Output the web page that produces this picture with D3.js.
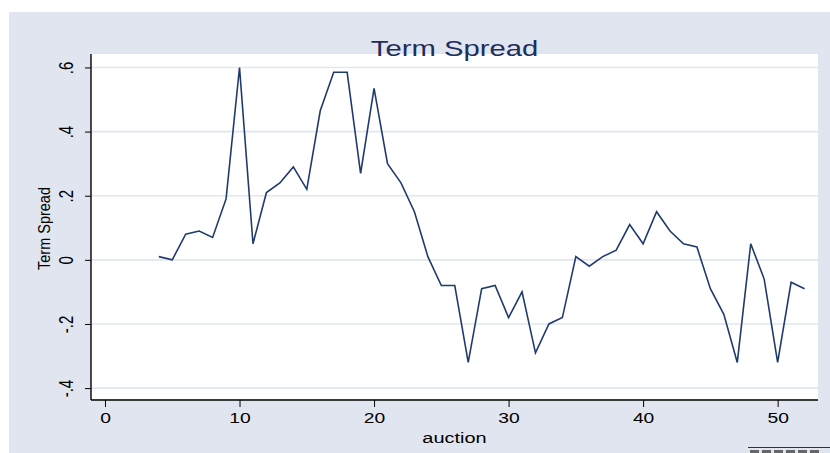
<!DOCTYPE html>
<html>
<head>
<meta charset="utf-8">
<script src="https://cdn.jsdelivr.net/npm/d3@7"></script>
<style>
  html, body { margin: 0; padding: 0; background: #ffffff; overflow: hidden; }
  svg { display: block; }
  text { font-family: "Liberation Sans", Arial, sans-serif; }
</style>
</head>
<body>
<svg id="chart" width="830" height="453"></svg>
<script>
// ---- data ----
const auction = [4, 5, 6, 7, 8, 9, 10, 11, 12, 13, 14, 15, 16, 17, 18, 19, 20, 21, 22, 23, 24, 25, 26, 27, 28,
                 29, 30, 31, 32, 33, 34, 35, 36, 37, 38, 39, 40, 41, 42, 43, 44, 45, 46, 47, 48, 49, 50, 51, 52];
const termSpread = [0.01, 0.00, 0.08, 0.09, 0.07, 0.19, 0.60, 0.05, 0.21, 0.24, 0.29, 0.22, 0.465, 0.585, 0.585,
                    0.27, 0.535, 0.30, 0.24, 0.15, 0.01, -0.08, -0.08, -0.32, -0.09, -0.08, -0.18, -0.10, -0.29,
                    -0.20, -0.18, 0.01, -0.02, 0.01, 0.03, 0.11, 0.05, 0.15, 0.09, 0.05, 0.04, -0.09, -0.17,
                    -0.32, 0.05, -0.06, -0.32, -0.07, -0.09];
const xTicks = [0, 10, 20, 30, 40, 50];
const yTicks = [0.6, 0.4, 0.2, 0, -0.2, -0.4];
const yTickLabels = [".6", ".4", ".2", "0", "-.2", "-.4"];
const titleText = "Term Spread";
const xLabel = "auction";
const yLabel = "Term Spread";

// ---- layout ----
const svg = d3.select("#chart");
const SX = 1.33; // horizontal glyph stretch seen in the reference
const plot = { left: 91, right: 818, top: 54, bottom: 399 };

const x = d3.scaleLinear().domain([-1.04, 53.0]).range([plot.left, plot.right]);
const y = d3.scaleLinear().domain([-0.434, 0.642]).range([plot.bottom, plot.top]);

// outer panel
svg.append("rect").attr("x", 9).attr("y", 12).attr("width", 821).attr("height", 441).attr("fill", "#e1e5ef");
// plot region
svg.append("rect").attr("x", plot.left).attr("y", plot.top)
  .attr("width", plot.right - plot.left).attr("height", plot.bottom - plot.top).attr("fill", "#ffffff");

// grid lines
svg.append("g").selectAll("line").data(yTicks).join("line")
  .attr("x1", plot.left).attr("x2", plot.right)
  .attr("y1", d => y(d)).attr("y2", d => y(d))
  .attr("stroke", "#e1e6ef").attr("stroke-width", 1.6);

// title
svg.append("text")
  .attr("transform", `translate(${(plot.left + plot.right) / 2},56) scale(${SX},1)`)
  .attr("text-anchor", "middle").attr("font-size", 22).attr("fill", "#1e2e5a")
  .text(titleText);

// line
const line = d3.line().x((d, i) => x(auction[i])).y(d => y(d));
svg.append("path").datum(termSpread)
  .attr("d", line).attr("fill", "none")
  .attr("stroke", "#1f3b6e").attr("stroke-width", 1.6).attr("stroke-linejoin", "miter");

// y axis
const yAxis = d3.axisLeft(y).tickValues(yTicks).tickSize(6).tickFormat((d, i) => yTickLabels[i]);
const gy = svg.append("g").attr("transform", `translate(${plot.left},0)`).call(yAxis);
gy.select(".domain").attr("stroke", "#000").attr("stroke-width", 1.4)
  .attr("d", `M0,${plot.top}V${plot.bottom + 1}`);
gy.selectAll(".tick line").attr("stroke", "#000").attr("stroke-width", 1);
gy.selectAll(".tick text")
  .attr("x", null).attr("dy", null)
  .attr("transform", `translate(-18,0) scale(${SX},1) rotate(-90)`)
  .attr("text-anchor", "middle").attr("font-size", 15).attr("fill", "#000")
  .attr("font-family", "'Liberation Sans', Arial, sans-serif");

// x axis
const xAxis = d3.axisBottom(x).tickValues(xTicks).tickSize(7).tickFormat(d3.format("d"));
const gx = svg.append("g").attr("transform", `translate(0,${plot.bottom + 1})`).call(xAxis);
gx.select(".domain").attr("stroke", "#000").attr("stroke-width", 1.4)
  .attr("d", `M${plot.left},0H${plot.right}`);
gx.selectAll(".tick line").attr("stroke", "#000").attr("stroke-width", 1);
gx.selectAll(".tick text")
  .attr("y", null).attr("dy", null)
  .attr("transform", `translate(0,23) scale(${SX},1)`)
  .attr("text-anchor", "middle").attr("font-size", 14.5).attr("fill", "#000")
  .attr("font-family", "'Liberation Sans', Arial, sans-serif");

// axis titles
svg.append("text")
  .attr("transform", `translate(${(plot.left + plot.right) / 2},443) scale(${SX},1)`)
  .attr("text-anchor", "middle").attr("font-size", 15).attr("fill", "#000")
  .text(xLabel);
svg.append("text")
  .attr("transform", `translate(50,${(plot.top + plot.bottom) / 2 + 2}) scale(1.2,1) rotate(-90)`)
  .attr("text-anchor", "middle").attr("font-size", 14.5).attr("fill", "#000")
  .text(yLabel);

// cut-off note marks at bottom right (illegible in the reference)
svg.append("line").attr("x1", 748).attr("x2", 830).attr("y1", 447.5).attr("y2", 447.5)
  .attr("stroke", "#333").attr("stroke-width", 1);
svg.append("g").selectAll("rect").data(d3.range(6)).join("rect")
  .attr("x", d => 750 + d * 12).attr("y", 450).attr("width", 9).attr("height", 3)
  .attr("fill", "#666");
</script>
</body>
</html>
